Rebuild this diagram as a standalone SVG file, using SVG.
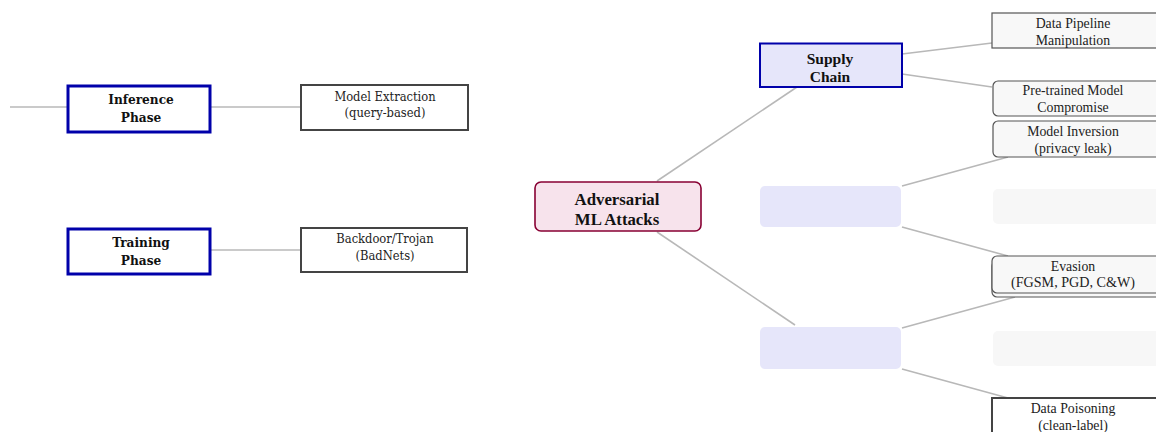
<svg xmlns="http://www.w3.org/2000/svg" width="1156" height="432" viewBox="0 0 1156 432">
<style>
.c{stroke:#b8b8b8;stroke-width:1.6;fill:none}
.phase{fill:#fff;stroke:#0000aa;stroke-width:3}
.leaf{fill:#fff;stroke:#444;stroke-width:2}
.lt{font-family:"DejaVu Serif Condensed","DejaVu Serif",serif;font-size:12.8px;fill:#222;text-anchor:middle}
.lb{font-family:"DejaVu Serif Condensed","DejaVu Serif",serif;font-size:13.5px;font-weight:bold;fill:#111;text-anchor:middle}
.rt{font-family:"Liberation Serif",serif;font-size:13.8px;fill:#222;text-anchor:middle}
.rb{font-family:"Liberation Serif",serif;font-size:15.5px;font-weight:bold;fill:#111;text-anchor:middle}
.big{font-size:16.8px}
.box{fill:#f8f8f8;stroke:#555;stroke-width:1.2}
.ghost{fill:#f7f7f7}
.cat{fill:#e6e6fa}
</style>
<g id="connectors">
<line class="c" x1="10" y1="107" x2="68" y2="107"/>
<line class="c" x1="210" y1="107" x2="301" y2="107"/>
<line class="c" x1="210" y1="250" x2="301" y2="250"/>
<line class="c" x1="657" y1="181" x2="797" y2="87"/>
<line class="c" x1="657" y1="232" x2="795" y2="325"/>
<line class="c" x1="902" y1="54" x2="992" y2="43"/>
<line class="c" x1="902" y1="74" x2="992" y2="87"/>
<line class="c" x1="902" y1="186" x2="1008" y2="157"/>
<line class="c" x1="902" y1="227" x2="1008" y2="256"/>
<line class="c" x1="902" y1="328" x2="1015" y2="297"/>
<line class="c" x1="902" y1="369" x2="1008" y2="398"/>
</g>
<g id="inference">
<rect class="phase" x="68" y="86" width="142" height="46"/>
<text class="lb" x="141" y="104">Inference</text>
<text class="lb" x="141" y="122">Phase</text>
</g>
<g id="model-extraction">
<rect class="leaf" x="301" y="85" width="167" height="45"/>
<text class="lt" x="385" y="101">Model Extraction</text>
<text class="lt" x="385" y="117">(query-based)</text>
</g>
<g id="training">
<rect class="phase" x="68" y="229" width="142" height="45"/>
<text class="lb" x="141" y="247">Training</text>
<text class="lb" x="141" y="265">Phase</text>
</g>
<g id="backdoor">
<rect class="leaf" x="301" y="228" width="166" height="44"/>
<text class="lt" x="385" y="243">Backdoor/Trojan</text>
<text class="lt" x="385" y="260">(BadNets)</text>
</g>
<g id="root">
<rect x="535" y="182" width="166" height="49" rx="6" fill="#f7e3ec" stroke="#880033" stroke-width="1.6"/>
<text class="rb big" x="617" y="205">Adversarial</text>
<text class="rb big" x="617" y="225">ML Attacks</text>
</g>
<g id="supply-chain">
<rect x="760" y="43.5" width="142" height="43.5" fill="#e6e6fa" stroke="#0000aa" stroke-width="2"/>
<text class="rb" x="830" y="64">Supply</text>
<text class="rb" x="830" y="82">Chain</text>
</g>
<g id="cat-mid"><rect class="cat" x="760" y="186" width="141" height="41" rx="5"/></g>
<g id="cat-bottom"><rect class="cat" x="760" y="327" width="141" height="42" rx="5"/></g>
<g id="data-pipeline">
<rect class="box" x="992" y="13" width="170" height="35"/>
<text class="rt" x="1073" y="28">Data Pipeline</text>
<text class="rt" x="1073" y="45">Manipulation</text>
</g>
<g id="pretrained">
<rect class="box" x="993" y="81" width="170" height="35" rx="5"/>
<text class="rt" x="1073" y="95">Pre-trained Model</text>
<text class="rt" x="1073" y="112">Compromise</text>
</g>
<g id="model-inversion">
<rect class="box" x="993" y="121" width="170" height="36" rx="5"/>
<text class="rt" x="1073" y="136">Model Inversion</text>
<text class="rt" x="1073" y="153">(privacy leak)</text>
</g>
<g id="ghost-1"><rect class="ghost" x="993" y="189" width="170" height="35" rx="5"/></g>
<g id="evasion">
<rect class="box" x="992" y="261" width="170" height="36" rx="5"/>
<rect class="box" x="992" y="256" width="170" height="37" rx="5"/>
<text class="rt" x="1073" y="271">Evasion</text>
<text class="rt" x="1073" y="287" textLength="124" lengthAdjust="spacingAndGlyphs">(FGSM, PGD, C&amp;W)</text>
</g>
<g id="ghost-2"><rect class="ghost" x="993" y="331" width="170" height="35" rx="5"/></g>
<g id="data-poisoning">
<rect class="leaf" x="992" y="398" width="170" height="40" stroke-width="1.2"/>
<text class="rt" x="1073" y="413">Data Poisoning</text>
<text class="rt" x="1073" y="430">(clean-label)</text>
</g>
</svg>
